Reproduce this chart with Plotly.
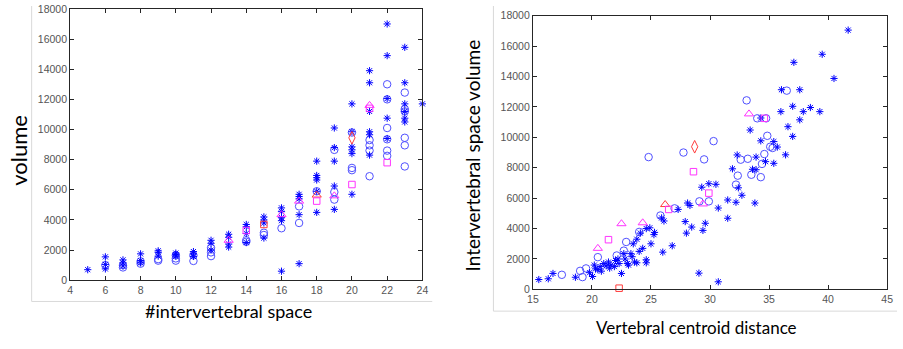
import plotly.graph_objects as go

# ---------------- Left chart data: #intervertebral space vs volume ----------------
L_star_x = [5, 6, 6, 6, 7, 7, 7, 8, 8, 8, 9, 9, 9, 10, 10, 10, 11, 11, 11,
            12, 12, 12, 13, 13, 13, 13, 14, 14, 14, 14, 15, 15, 15, 15,
            16, 16, 16, 16, 16, 17, 17, 17, 17, 17,
            18, 18, 18, 18, 18, 18, 19, 19, 19, 19, 19,
            20, 20, 20, 20, 20, 20, 21, 21, 21, 21, 21, 21,
            22, 22, 22, 22, 22, 23, 23, 23, 23, 23, 23, 24]
L_star_y = [700, 1550, 1050, 750, 1350, 1150, 950, 1750, 1300, 1150, 1950, 1850, 1600,
            1800, 1700, 1600, 1900, 1750, 1580,
            2650, 2450, 2000, 3050, 2850, 2400, 2200, 3700, 3550, 3100, 2500,
            4200, 4000, 3800, 2800,
            4800, 4550, 4150, 3950, 600, 5700, 5550, 5400, 4350, 1100,
            7900, 6950, 6800, 6650, 5900, 4500, 10100, 8800, 7900, 6250, 4700,
            11700, 9850, 8850, 8650, 8400, 5700, 13900, 13100, 11200, 9850, 9650, 8300,
            17000, 14900, 12050, 10750, 9400, 15450, 13100, 11700, 11200, 10750, 10500, 11700]

L_circ_x = [6, 7, 7, 8, 8, 9, 9, 10, 10, 10, 11, 11, 12, 12, 12, 14, 14, 15, 15,
            16, 17, 17, 18, 19, 19, 19, 20, 20, 20, 21, 21, 21, 21,
            22, 22, 22, 22, 22, 22, 23, 23, 23, 23, 23, 23]
L_circ_y = [1000, 1000, 850, 1250, 1100, 1400, 1300, 1650, 1450, 1300, 1650, 1280,
            2150, 1850, 1600, 2650, 2550, 3150, 3000,
            3450, 4900, 3800, 5900, 8650, 5850, 5350, 9800, 7450, 7300, 9300, 8950, 8600, 6900,
            13000, 12000, 10100, 9350, 8600, 8250, 12450, 11350, 11200, 9450, 8950, 7550]

L_tri_m_x = [13, 16, 17, 19, 21]
L_tri_m_y = [2650, 4350, 5250, 5600, 11600]
L_tri_r_x = [18]
L_tri_r_y = [5650]
L_sq_m_x = [14, 18, 20, 21, 22]
L_sq_m_y = [3300, 5250, 6350, 11400, 7800]
L_sq_r_x = [15]
L_sq_r_y = [3700]
L_dia_x = [20]
L_dia_y = [9450]

L_xticks = [4, 6, 8, 10, 12, 14, 16, 18, 20, 22, 24]
Y_ticks = [0, 2000, 4000, 6000, 8000, 10000, 12000, 14000, 16000, 18000]

# ---------------- Right chart data: vertebral centroid distance vs volume ----------------
R_star_x = [15.5, 16.3, 16.7, 18.6, 20.05, 20.2, 20.5, 20.7, 21.0, 21.2, 21.4, 21.6, 21.9, 22.0,
            22.3, 22.5, 22.7, 23.0, 23.4, 23.8, 24.0, 24.3, 24.1, 24.6, 25.25, 24.6, 24.6, 25.0,
            26.0, 26.8, 24.9, 23.3, 22.8, 23.6, 20.8, 21.5, 20.3, 19.8, 22.2, 23.8, 25.9, 26.1,
            23.1, 23.5, 25.3,
            29.3, 29.9, 30.5, 32.4, 32.7, 28.1, 28.3, 27.3, 30.7, 31.5, 32.2, 33.8, 31.5, 29.6,
            27.9, 28.45, 29.4, 28.0, 29.06, 30.7,
            41.7, 39.5, 37.1, 40.5, 36.05, 37.6, 36.0, 37.0, 37.9, 38.5, 39.3, 36.6, 37.6, 33.4,
            37.0, 35.4, 35.7, 34.3, 36.4, 32.3, 33.9, 35.4, 34.7, 31.9, 33.6, 33.9, 34.3]
R_star_y = [650, 700, 1050, 800, 850, 1600, 1300, 1500, 1700, 1550, 1800, 1600, 1500, 1900,
            1700, 1050, 2350, 1700, 2150, 1750, 2500, 2700, 3700, 4000, 3600, 1950, 1750, 3000,
            2450, 2870, 4050, 2350, 2000, 1800, 1200, 1400, 1350, 1100, 2000, 3300, 4700, 4500,
            1600, 3000, 3750,
            6720, 6950, 6910, 6680, 6190, 5680, 5520, 5260, 5350, 5880, 5730, 5680, 4680, 4350,
            4460, 4100, 3880, 3700, 1070, 500,
            17050, 15460, 14930, 13870, 13130, 13130, 11690, 12040, 11690, 11960, 11690, 10700,
            11150, 10480, 10060, 9720, 9360, 9770, 8850, 8840, 8700, 8290, 8400, 7930, 7900,
            7870, 11270]

R_circ_x = [17.45, 19.0, 19.2, 19.5, 20.5, 22.1, 22.7, 22.9, 24.0, 25.8, 27.0, 29.1, 29.9,
            24.8, 27.75, 29.5, 30.3, 32.2, 32.35, 33.5, 34.3, 32.6, 33.2, 34.6, 34.4, 35.1,
            35.3, 34.85, 34.0, 34.75, 33.1, 36.5]
R_circ_y = [960, 1220, 810, 1380, 2120, 2230, 2550, 3120, 3780, 4860, 5330, 5790, 5790,
            8700, 9000, 8550, 9750, 6890, 7480, 7540, 7380, 8530, 8590, 8900, 8250, 9380,
            9300, 10100, 11250, 11250, 12430, 13070]

R_tri_m_x = [20.5, 22.5, 24.3, 29.4, 33.3]
R_tri_m_y = [2700, 4320, 4380, 5620, 11540]
R_tri_r_x = [26.2]
R_tri_r_y = [5580]
R_sq_m_x = [21.4, 26.5, 28.6, 29.9, 34.6]
R_sq_m_y = [3270, 5260, 7740, 6330, 11250]
R_sq_r_x = [22.3]
R_sq_r_y = [80]
R_dia_x = [28.7]
R_dia_y = [9380]

R_xticks = [15, 20, 25, 30, 35, 40, 45]

# ---------------- Styles ----------------
BLUE = "#0000ff"
CIRC = "rgb(80,80,255)"
MAG = "#ff33ff"
RED = "#ff3b3b"

W, H = 903, 349
fig = go.Figure()


def add(xs, ys, symbol, color, xa, ya, size=7, lw=1):
    fig.add_trace(go.Scatter(
        x=xs, y=ys, mode="markers", xaxis=xa, yaxis=ya, cliponaxis=False,
        marker=dict(symbol=symbol, size=size, color=color,
                    line=dict(color=color, width=lw)),
        showlegend=False, hoverinfo="skip"))


for xa, ya, d in [("x", "y", dict(s=(L_star_x, L_star_y), c=(L_circ_x, L_circ_y),
                                  tm=(L_tri_m_x, L_tri_m_y), tr=(L_tri_r_x, L_tri_r_y),
                                  sm=(L_sq_m_x, L_sq_m_y), sr=(L_sq_r_x, L_sq_r_y),
                                  dd=(L_dia_x, L_dia_y))),
                  ("x2", "y2", dict(s=(R_star_x, R_star_y), c=(R_circ_x, R_circ_y),
                                    tm=(R_tri_m_x, R_tri_m_y), tr=(R_tri_r_x, R_tri_r_y),
                                    sm=(R_sq_m_x, R_sq_m_y), sr=(R_sq_r_x, R_sq_r_y),
                                    dd=(R_dia_x, R_dia_y)))]:
    add(*d["c"], "circle-open", CIRC, xa, ya, size=7.5)
    add(*d["s"], "asterisk-open", BLUE, xa, ya, size=6, lw=1)
    add(*d["tm"], "triangle-up-open", MAG, xa, ya, size=8)
    add(*d["tr"], "triangle-up-open", RED, xa, ya, size=8)
    add(*d["sm"], "square-open", MAG, xa, ya, size=6.5)
    add(*d["sr"], "square-open", RED, xa, ya, size=6.5)
    add(*d["dd"], "diamond-tall-open", RED, xa, ya, size=9)

axis_common = dict(showline=True, linecolor="#262626", linewidth=1, mirror="ticks",
                   ticks="inside", ticklen=4, tickcolor="#262626", showgrid=False,
                   zeroline=False, tickformat="d",
                   tickfont=dict(family="Liberation Sans, Arial", size=10.5, color="#555555"))

fig.update_layout(
    width=W, height=H, margin=dict(l=0, r=0, t=0, b=0, pad=0),
    paper_bgcolor="white", plot_bgcolor="white",
    xaxis=dict(domain=[65 / W, 422 / W], range=[4, 24], tickvals=L_xticks, anchor="y",
               **axis_common),
    yaxis=dict(domain=[1 - 284 / H, 1 - 3 / H], range=[0, 18000], tickvals=Y_ticks,
               anchor="x", **axis_common),
    xaxis2=dict(domain=[534 / W, 893 / W], range=[15, 45], tickvals=R_xticks, anchor="y2",
                **axis_common),
    yaxis2=dict(domain=[1 - 293.5 / H, 1 - 10 / H], range=[0, 18000], tickvals=Y_ticks,
                anchor="x2", **axis_common),
)

TF = "Lato, Open Sans, sans-serif"
ann = [
    dict(text="volume", x=13 / W, y=1 - 149 / H, textangle=-90, size=22),
    dict(text="#intervertebral space", x=226 / W, y=1 - 316 / H, textangle=0, size=18),
    dict(text="Intervertebral space volume", x=473 / W, y=1 - 155 / H, textangle=-90, size=19),
    dict(text="Vertebral centroid distance", x=700 / W, y=1 - 333 / H, textangle=0, size=17),
]
for a in ann:
    fig.add_annotation(text=a["text"], x=a["x"], y=a["y"], xref="paper", yref="paper",
                       xanchor="center", yanchor="middle", showarrow=False,
                       textangle=a["textangle"], font=dict(family=TF, size=a["size"],
                                                           color="#000000"))

# faint frame lines of the two pasted figure images
frame = "#d9d9d9"
for (x0, y0, x1, y1) in [(26, 0, 26, 306), (26, 306, 432, 306),
                         (494, 0, 494, 316), (494, 316, 903, 316)]:
    fig.add_shape(type="line", xref="paper", yref="paper",
                  x0=x0 / W, x1=x1 / W, y0=1 - y0 / H, y1=1 - y1 / H,
                  line=dict(color=frame, width=1))

fig.write_html("out.html")
